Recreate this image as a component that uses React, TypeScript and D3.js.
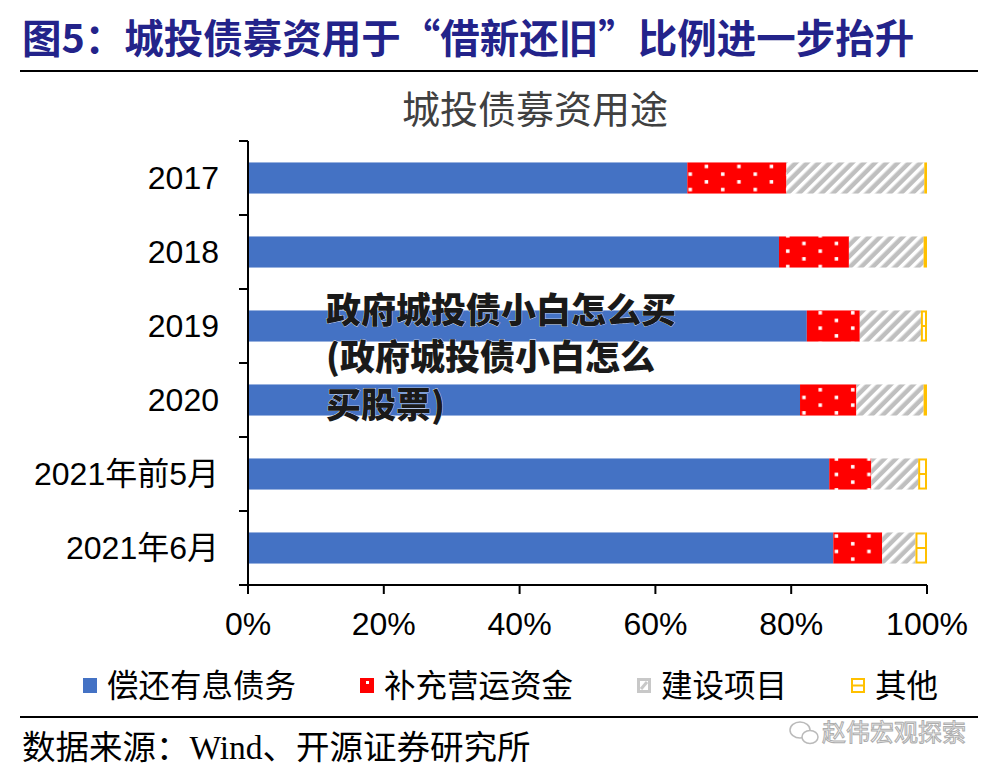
import React from "react";
import * as d3 from "d3";

const categories = ["2017", "2018", "2019", "2020", "2021年前5月", "2021年6月"];
const repayDebt = [64.7, 78.2, 82.3, 81.3, 85.6, 86.2];
const workingCapital = [14.6, 10.3, 7.8, 8.3, 6.2, 7.2];
const construction = [20.3, 11.0, 9.0, 9.9, 6.9, 4.9];
const other = [0.4, 0.5, 0.9, 0.5, 1.3, 1.7];
const seriesNames = ["偿还有息债务", "补充营运资金", "建设项目", "其他"];
const xTicks = [0, 20, 40, 60, 80, 100];

const W = 1000;
const H = 772;
const CJK = "'Noto Sans CJK SC', sans-serif";
const ARIAL = "'Liberation Sans', Arial, sans-serif";

export default function App() {
  const x = d3.scaleLinear().domain([0, 100]).range([248, 927]);
  const y = d3.scaleBand<string>().domain(categories).range([141, 585]).paddingInner(0.58).paddingOuter(0.29);

  const rows = categories.map((c, i) => ({
    cat: c,
    s0: repayDebt[i],
    s1: workingCapital[i],
    s2: construction[i],
    s3: other[i],
  }));
  const stack = d3.stack<any>().keys(["s0", "s1", "s2", "s3"]);
  const layers = stack(rows);
  const fills = ["#4472C4", "url(#dots)", "url(#hatch)", "#FFC000"];

  const step = y.step();
  const boundaries = d3.range(categories.length + 1).map((i) => 141 + i * step);

  return (
    <svg width={W} height={H} style={{ position: "absolute", left: 0, top: 0, background: "#fff" }}>
      <defs>
        <pattern id="dots" patternUnits="userSpaceOnUse" width={32.5} height={15.4}>
          <rect width={32.5} height={15.4} fill="#FF0000" />
          <rect x={6} y={3} width={3.5} height={3.5} fill="#fff" />
          <rect x={22.2} y={10.7} width={3.5} height={3.5} fill="#fff" />
        </pattern>
        <pattern id="hatch" patternUnits="userSpaceOnUse" width={8} height={8} patternTransform="rotate(45)">
          <rect width={8} height={8} fill="#BFBFBF" />
          <rect x={0} y={0} width={3.5} height={8} fill="#fff" />
        </pattern>
      </defs>

      {/* Title */}
      <text x={22} y={53} fontFamily={CJK} fontWeight="bold" fontSize={39.5} fill="#23238A">
        图5：城投债募资用于“借新还旧”比例进一步抬升
      </text>
      <line x1={20} x2={978} y1={71} y2={71} stroke="#000" strokeWidth={2} />

      {/* Chart title */}
      <text x={535} y={123} textAnchor="middle" fontFamily={CJK} fontSize={38} fill="#404040">
        城投债募资用途
      </text>

      {/* Bars */}
      {layers.map((layer, li) => (
        <g key={li}>
          {layer.map((d, i) => {
            const x0 = x(d[0]);
            const x1 = x(d[1]);
            const yy = y(categories[i])!;
            const h = y.bandwidth();
            if (li === 3) {
              const w = x1 - x0;
              return (
                <g key={i}>
                  <rect x={x0} y={yy} width={w} height={h} fill="#FFC000" />
                  {w > 5 && (
                    <>
                      <rect x={x0 + 2} y={yy + 2} width={w - 4} height={h / 2 - 3} fill="#fff" />
                      <rect x={x0 + 2} y={yy + h / 2 + 1} width={w - 4} height={h / 2 - 3} fill="#fff" />
                    </>
                  )}
                </g>
              );
            }
            return <rect key={i} x={x0} y={yy} width={x1 - x0} height={h} fill={fills[li]} />;
          })}
        </g>
      ))}

      {/* Y axis */}
      <line x1={248} x2={248} y1={141} y2={585} stroke="#000" strokeWidth={2} />
      {boundaries.map((b, i) => (
        <line key={i} x1={239} x2={248} y1={b} y2={b} stroke="#000" strokeWidth={2} />
      ))}
      {categories.map((c) => (
        <text
          key={c}
          x={219}
          y={y(c)! + y.bandwidth() / 2 + 11}
          textAnchor="end"
          fontFamily={c.length > 4 ? ARIAL + ", " + CJK : ARIAL}
          fontSize={32}
          fill="#000"
        >
          {c}
        </text>
      ))}

      {/* X axis */}
      <line x1={248} x2={927} y1={585} y2={585} stroke="#000" strokeWidth={2} />
      {xTicks.map((t) => (
        <g key={t}>
          <line x1={x(t)} x2={x(t)} y1={585} y2={594} stroke="#000" strokeWidth={2} />
          <text x={x(t)} y={635} textAnchor="middle" fontFamily={ARIAL} fontSize={32} fill="#000">
            {t + "%"}
          </text>
        </g>
      ))}

      {/* Legend */}
      {(() => {
        const items = [{ x: 83 }, { x: 360 }, { x: 637 }, { x: 851 }];
        return items.map((it, i) => (
          <g key={i}>
            {i === 0 && <rect x={it.x} y={678} width={14} height={15} fill="#4472C4" />}
            {i === 1 && (
              <>
                <rect x={it.x} y={678} width={14} height={15} fill="#FF0000" />
                <rect x={it.x + 6} y={681} width={3} height={3} fill="#fff" />
              </>
            )}
            {i === 2 && (
              <>
                <rect x={it.x} y={678} width={14} height={15} fill="#C8C8C8" />
                <rect x={it.x + 3} y={681} width={8} height={9} fill="#fff" />
                <path d={`M${it.x + 4},${689} L${it.x + 10},${682}`} stroke="#C8C8C8" strokeWidth={3} />
              </>
            )}
            {i === 3 && (
              <>
                <rect x={it.x + 1} y={679} width={12} height={13} fill="#fff" stroke="#FFC000" strokeWidth={2} />
                <line x1={it.x + 1} x2={it.x + 13} y1={685.5} y2={685.5} stroke="#FFC000" strokeWidth={2} />
              </>
            )}
            <text x={it.x + 24} y={697} fontFamily={CJK} fontSize={31.5} fill="#000">
              {seriesNames[i]}
            </text>
          </g>
        ));
      })()}

      <line x1={20} x2={978} y1={717} y2={717} stroke="#000" strokeWidth={2} />

      {/* Source */}
      <text x={22} y={759} fontSize={33.5} fill="#000">
        <tspan fontFamily={CJK}>数据来源：</tspan>
        <tspan fontFamily="'Liberation Serif', serif">Wind</tspan>
        <tspan fontFamily={CJK}>、开源证券研究所</tspan>
      </text>

      {/* WeChat watermark */}
      <g opacity={0.8}>
        <ellipse cx={800} cy={730} rx={10} ry={8} fill="none" stroke="#aaa" strokeWidth={1.5} />
        <ellipse cx={810} cy={737} rx={8} ry={6.5} fill="#fff" stroke="#aaa" strokeWidth={1.5} />
        <text x={822} y={741} fontFamily={CJK} fontSize={24} fill="#f4f4f4" stroke="#999" strokeWidth={1}>
          赵伟宏观探索
        </text>
      </g>

      {/* Overlay text */}
      <g fontFamily={CJK} fontWeight="900" fontSize={35} fill="#1a1a1a" stroke="#fff" strokeWidth={0.6} paintOrder="stroke">
        <text x={326} y={323}>政府城投债小白怎么买</text>
        <text x={326} y={370}>(政府城投债小白怎么</text>
        <text x={326} y={418}>买股票)</text>
      </g>
    </svg>
  );
}
